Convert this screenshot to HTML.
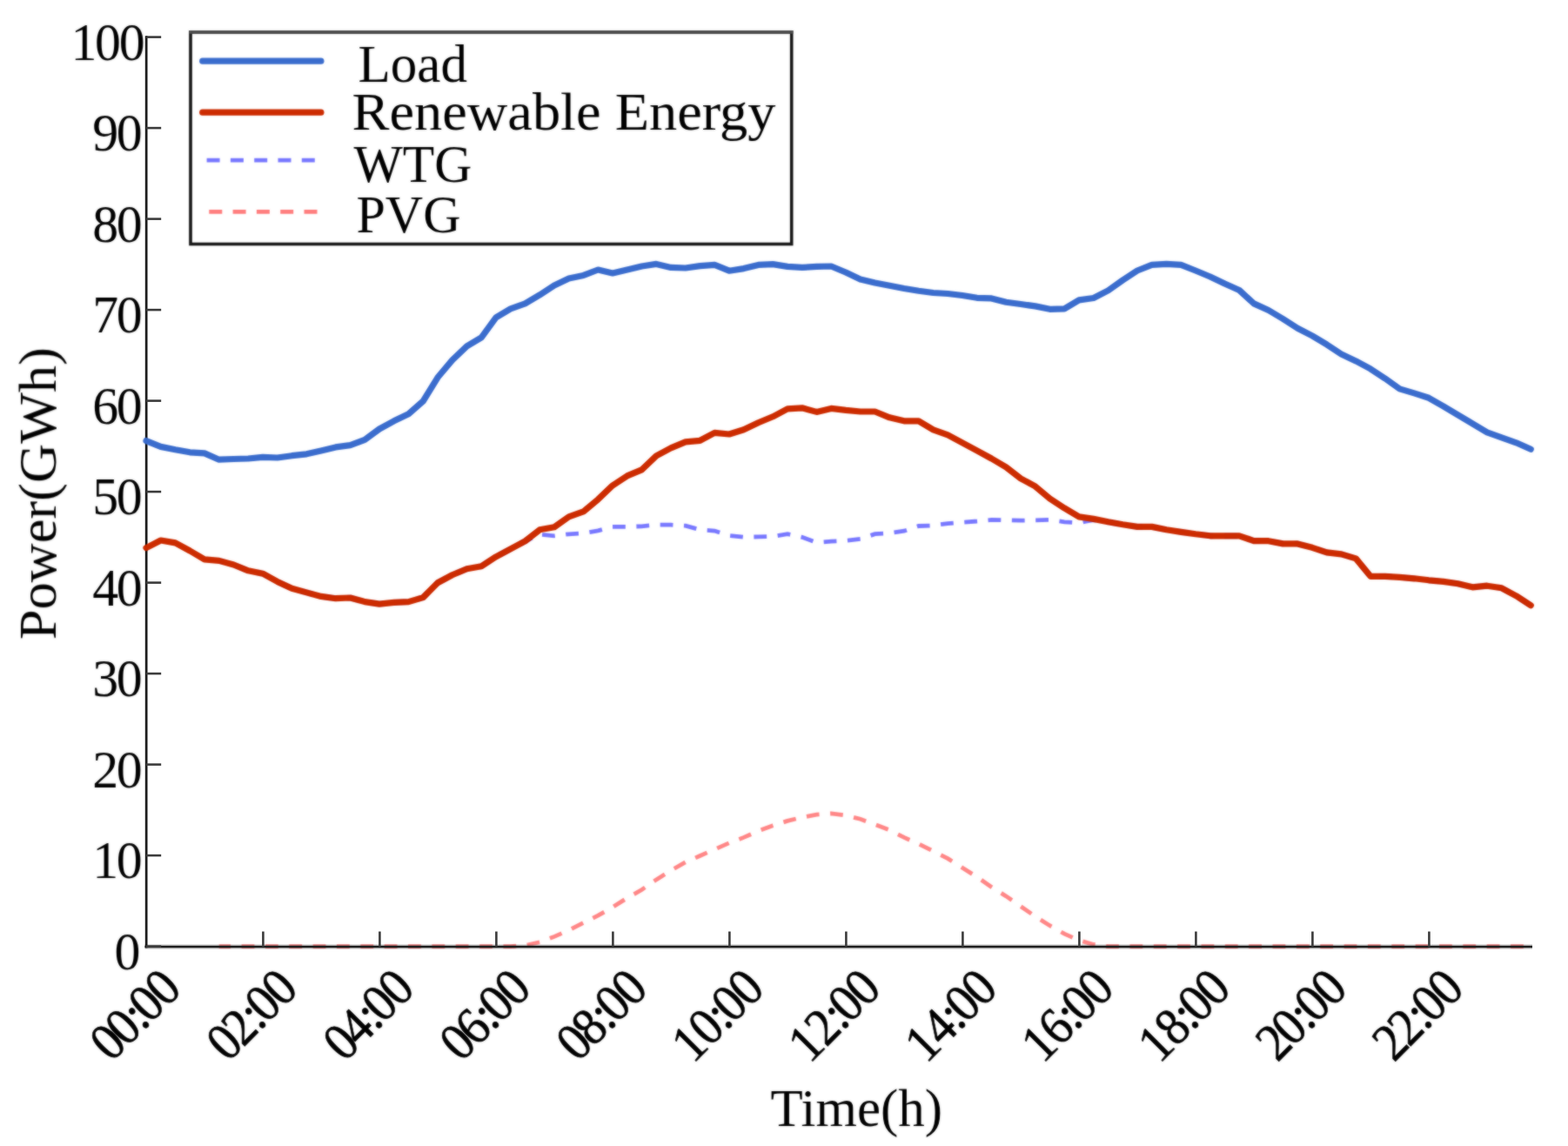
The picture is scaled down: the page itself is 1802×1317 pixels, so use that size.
<!DOCTYPE html>
<html lang="en"><head><meta charset="utf-8"><title>Power chart</title>
<style>html,body{margin:0;padding:0;background:#fff}svg{display:block}text{font-family:"Liberation Serif",serif;fill:#000}</style></head>
<body><svg width="1802" height="1317" viewBox="0 0 1802 1317">
<defs><filter id="soft" x="0" y="0" width="1802" height="1317" filterUnits="userSpaceOnUse" color-interpolation-filters="sRGB"><feGaussianBlur stdDeviation="0.8" result="b"/><feComposite in="SourceGraphic" in2="b" operator="arithmetic" k1="0" k2="0.45" k3="0.55" k4="0"/></filter></defs>
<rect width="1802" height="1317" fill="#fff"/>
<g filter="url(#soft)">
<polyline fill="none" stroke="#7878ff" stroke-width="4.8" stroke-dasharray="14.8 12.55" stroke-dashoffset="9" points="251.75,644.40 268.50,649.00 285.25,655.80 302.00,659.20 318.75,668.40 335.50,676.30 352.25,680.90 369.00,685.40 385.75,687.70 402.50,687.00 419.25,691.60 436.00,694.10 452.75,692.30 469.50,691.60 486.25,686.60 503.00,669.70 519.75,660.80 536.50,653.80 553.25,650.80 570.00,639.80 586.75,630.80 603.50,621.80 620.25,614.00 637.00,615.80 653.75,613.80 670.50,612.80 687.25,609.80 704.00,605.40 720.75,605.40 737.50,604.80 754.25,603.20 771.00,603.20 787.75,604.20 804.50,608.80 821.25,610.00 838.00,615.50 854.75,617.30 871.50,616.90 888.25,616.40 905.00,613.70 921.75,617.30 938.50,623.50 955.25,622.20 972.00,621.40 988.75,619.40 1005.50,613.70 1022.25,612.80 1039.00,610.20 1055.75,604.50 1072.50,603.90 1089.25,601.60 1106.00,600.20 1122.75,599.00 1139.50,597.40 1156.25,597.80 1173.00,598.20 1189.75,597.80 1206.50,597.40 1223.25,599.80 1240.00,600.80 1256.75,597.50 1273.50,599.80 1290.25,602.80 1307.00,605.40 1323.75,605.40 1340.50,608.80 1357.25,611.40 1374.00,613.80 1390.75,615.80 1407.50,615.80 1424.25,615.80 1441.00,621.60 1457.75,621.70 1474.50,624.90 1491.25,624.90 1508.00,629.30 1524.75,634.90 1541.50,636.90 1558.25,641.90 1575.00,662.30 1591.75,662.30 1608.50,663.40 1625.25,664.80 1642.00,666.80 1658.75,668.40 1675.50,670.80 1692.25,674.80 1709.00,673.20 1725.75,675.80 1742.50,684.80 1759.25,695.80"/>
<polyline fill="none" stroke="#ff8686" stroke-width="4.8" stroke-dasharray="14.8 12.55" stroke-dashoffset="1.5" points="251.75,1087.60 268.50,1087.60 285.25,1087.60 302.00,1087.60 318.75,1087.60 335.50,1087.60 352.25,1087.60 369.00,1087.60 385.75,1087.60 402.50,1087.60 419.25,1087.60 436.00,1087.60 452.75,1087.60 469.50,1087.60 486.25,1087.60 503.00,1087.60 519.75,1087.60 536.50,1087.60 553.25,1087.60 570.00,1087.60 586.75,1087.60 603.50,1086.50 620.25,1082.70 637.00,1076.40 653.75,1069.00 670.50,1060.50 687.25,1052.10 704.00,1042.60 720.75,1032.00 737.50,1022.50 754.25,1010.90 771.00,1000.40 787.75,990.90 804.50,983.50 821.25,976.10 838.00,968.70 854.75,962.40 871.50,955.00 888.25,948.70 905.00,943.40 921.75,939.20 938.50,936.20 955.25,934.90 972.00,937.00 988.75,941.30 1005.50,947.60 1022.25,953.90 1039.00,962.40 1055.75,969.80 1072.50,978.20 1089.25,986.70 1106.00,997.20 1122.75,1007.80 1139.50,1019.40 1156.25,1029.90 1173.00,1041.50 1189.75,1053.20 1206.50,1063.70 1223.25,1073.20 1240.00,1080.60 1256.75,1085.50 1273.50,1087.60 1290.25,1087.60 1307.00,1087.60 1323.75,1087.60 1340.50,1087.60 1357.25,1087.60 1374.00,1087.60 1390.75,1087.60 1407.50,1087.60 1424.25,1087.60 1441.00,1087.60 1457.75,1087.60 1474.50,1087.60 1491.25,1087.60 1508.00,1087.60 1524.75,1087.60 1541.50,1087.60 1558.25,1087.60 1575.00,1087.60 1591.75,1087.60 1608.50,1087.60 1625.25,1087.60 1642.00,1087.60 1658.75,1087.60 1675.50,1087.60 1692.25,1087.60 1709.00,1087.60 1725.75,1087.60 1742.50,1087.60 1759.25,1087.60"/>
</g>
<g stroke="#1e1e1e" fill="none">
<line x1="168.1" y1="41.2" x2="168.1" y2="1089.3" stroke="#000" stroke-opacity="0.15" stroke-width="4.2"/>
<line x1="168.2" y1="41.2" x2="168.2" y2="1089.3" stroke-width="2.5"/>
<line x1="166.5" y1="1088" x2="1761" y2="1088" stroke="#000" stroke-opacity="0.2" stroke-width="5.6"/>
<line x1="166.5" y1="1088" x2="1761" y2="1088" stroke-width="2.3"/>
<line x1="168" y1="1087.6" x2="185.2" y2="1087.6" stroke="#3c3c3c" stroke-width="2.6"/>
<line x1="168" y1="983.1" x2="185.2" y2="983.1" stroke="#3c3c3c" stroke-width="2.6"/>
<line x1="168" y1="878.6" x2="185.2" y2="878.6" stroke="#3c3c3c" stroke-width="2.6"/>
<line x1="168" y1="774.1" x2="185.2" y2="774.1" stroke="#3c3c3c" stroke-width="2.6"/>
<line x1="168" y1="669.6" x2="185.2" y2="669.6" stroke="#3c3c3c" stroke-width="2.6"/>
<line x1="168" y1="565.1" x2="185.2" y2="565.1" stroke="#3c3c3c" stroke-width="2.6"/>
<line x1="168" y1="460.6" x2="185.2" y2="460.6" stroke="#3c3c3c" stroke-width="2.6"/>
<line x1="168" y1="356.1" x2="185.2" y2="356.1" stroke="#3c3c3c" stroke-width="2.6"/>
<line x1="168" y1="251.6" x2="185.2" y2="251.6" stroke="#3c3c3c" stroke-width="2.6"/>
<line x1="168" y1="147.1" x2="185.2" y2="147.1" stroke="#3c3c3c" stroke-width="2.6"/>
<line x1="168" y1="42.6" x2="185.2" y2="42.6" stroke="#3c3c3c" stroke-width="2.6"/>
<line x1="302.4" y1="1088" x2="302.4" y2="1070.5" stroke="#3c3c3c" stroke-width="2.6"/>
<line x1="436.4" y1="1088" x2="436.4" y2="1070.5" stroke="#3c3c3c" stroke-width="2.6"/>
<line x1="570.4" y1="1088" x2="570.4" y2="1070.5" stroke="#3c3c3c" stroke-width="2.6"/>
<line x1="704.4" y1="1088" x2="704.4" y2="1070.5" stroke="#3c3c3c" stroke-width="2.6"/>
<line x1="838.4" y1="1088" x2="838.4" y2="1070.5" stroke="#3c3c3c" stroke-width="2.6"/>
<line x1="972.4" y1="1088" x2="972.4" y2="1070.5" stroke="#3c3c3c" stroke-width="2.6"/>
<line x1="1106.4" y1="1088" x2="1106.4" y2="1070.5" stroke="#3c3c3c" stroke-width="2.6"/>
<line x1="1240.4" y1="1088" x2="1240.4" y2="1070.5" stroke="#3c3c3c" stroke-width="2.6"/>
<line x1="1374.4" y1="1088" x2="1374.4" y2="1070.5" stroke="#3c3c3c" stroke-width="2.6"/>
<line x1="1508.4" y1="1088" x2="1508.4" y2="1070.5" stroke="#3c3c3c" stroke-width="2.6"/>
<line x1="1642.4" y1="1088" x2="1642.4" y2="1070.5" stroke="#3c3c3c" stroke-width="2.6"/>
</g>
<g filter="url(#soft)">
<polyline fill="none" stroke="#3a6ccd" stroke-width="7.2" stroke-linecap="round" stroke-linejoin="round" points="168.00,506.60 184.75,513.40 201.50,516.80 218.25,519.80 235.00,520.90 251.75,528.20 268.50,527.50 285.25,527.00 302.00,525.30 318.75,526.00 335.50,523.70 352.25,521.80 369.00,518.00 385.75,513.90 402.50,511.60 419.25,505.40 436.00,493.00 452.75,483.80 469.50,475.80 486.25,461.00 503.00,433.80 519.75,413.90 536.50,397.90 553.25,387.90 570.00,364.90 586.75,354.90 603.50,348.90 620.25,338.90 637.00,327.90 653.75,320.00 670.50,316.40 687.25,310.00 704.00,314.00 720.75,310.00 737.50,306.00 754.25,303.40 771.00,307.40 787.75,308.00 804.50,305.60 821.25,304.40 838.00,311.20 854.75,308.60 871.50,304.40 888.25,303.60 905.00,306.40 921.75,307.40 938.50,306.40 955.25,306.00 972.00,313.00 988.75,321.00 1005.50,325.00 1022.25,328.30 1039.00,331.50 1055.75,334.30 1072.50,336.50 1089.25,337.50 1106.00,339.50 1122.75,342.30 1139.50,342.90 1156.25,347.30 1173.00,349.50 1189.75,351.90 1206.50,355.30 1223.25,354.90 1240.00,344.90 1256.75,342.50 1273.50,333.90 1290.25,322.00 1307.00,311.00 1323.75,304.40 1340.50,303.40 1357.25,304.40 1374.00,311.00 1390.75,318.00 1407.50,326.00 1424.25,333.50 1441.00,348.90 1457.75,356.50 1474.50,366.50 1491.25,377.20 1508.00,385.90 1524.75,395.90 1541.50,406.90 1558.25,414.90 1575.00,423.90 1591.75,434.90 1608.50,446.90 1625.25,451.90 1642.00,457.30 1658.75,466.80 1675.50,476.80 1692.25,486.80 1709.00,496.80 1725.75,502.80 1742.50,508.80 1759.25,516.20"/>
<polyline fill="none" stroke="#cc2b00" stroke-width="7.2" stroke-linecap="round" stroke-linejoin="round" points="168.00,629.60 184.75,621.00 201.50,623.90 218.25,633.00 235.00,642.80 251.75,644.40 268.50,649.00 285.25,655.80 302.00,659.20 318.75,668.40 335.50,676.30 352.25,680.90 369.00,685.40 385.75,687.70 402.50,687.00 419.25,691.60 436.00,694.10 452.75,692.30 469.50,691.60 486.25,686.60 503.00,669.70 519.75,660.80 536.50,653.80 553.25,650.80 570.00,639.80 586.75,630.80 603.50,621.80 620.25,608.80 637.00,605.80 653.75,593.90 670.50,587.90 687.25,573.90 704.00,557.90 720.75,546.90 737.50,539.90 754.25,523.90 771.00,514.90 787.75,507.90 804.50,506.30 821.25,497.40 838.00,499.00 854.75,493.80 871.50,485.80 888.25,478.80 905.00,469.80 921.75,468.80 938.50,473.40 955.25,469.40 972.00,471.40 988.75,473.00 1005.50,473.00 1022.25,479.80 1039.00,483.80 1055.75,483.80 1072.50,493.80 1089.25,499.80 1106.00,508.80 1122.75,517.80 1139.50,527.00 1156.25,536.80 1173.00,549.90 1189.75,558.90 1206.50,572.90 1223.25,583.90 1240.00,593.90 1256.75,596.40 1273.50,599.80 1290.25,602.80 1307.00,605.40 1323.75,605.40 1340.50,608.80 1357.25,611.40 1374.00,613.80 1390.75,615.80 1407.50,615.80 1424.25,615.80 1441.00,621.60 1457.75,621.70 1474.50,624.90 1491.25,624.90 1508.00,629.30 1524.75,634.90 1541.50,636.90 1558.25,641.90 1575.00,662.30 1591.75,662.30 1608.50,663.40 1625.25,664.80 1642.00,666.80 1658.75,668.40 1675.50,670.80 1692.25,674.80 1709.00,673.20 1725.75,675.80 1742.50,684.80 1759.25,695.80"/>
<text transform="translate(131.50,1113.80) scale(0.966,1)" x="0" y="0" font-size="62" letter-spacing="-2.5">0</text>
<text transform="translate(106.20,1009.30) scale(0.966,1)" x="0" y="0" font-size="62" letter-spacing="-2.5">10</text>
<text transform="translate(106.20,904.80) scale(0.966,1)" x="0" y="0" font-size="62" letter-spacing="-2.5">20</text>
<text transform="translate(106.20,800.30) scale(0.966,1)" x="0" y="0" font-size="62" letter-spacing="-2.5">30</text>
<text transform="translate(106.20,695.80) scale(0.966,1)" x="0" y="0" font-size="62" letter-spacing="-2.5">40</text>
<text transform="translate(106.20,591.30) scale(0.966,1)" x="0" y="0" font-size="62" letter-spacing="-2.5">50</text>
<text transform="translate(106.20,486.80) scale(0.966,1)" x="0" y="0" font-size="62" letter-spacing="-2.5">60</text>
<text transform="translate(106.20,382.30) scale(0.966,1)" x="0" y="0" font-size="62" letter-spacing="-2.5">70</text>
<text transform="translate(106.20,277.80) scale(0.966,1)" x="0" y="0" font-size="62" letter-spacing="-2.5">80</text>
<text transform="translate(106.20,173.30) scale(0.966,1)" x="0" y="0" font-size="62" letter-spacing="-2.5">90</text>
<text transform="translate(81.60,68.80) scale(0.966,1)" x="0" y="0" font-size="62" letter-spacing="-2.5">100</text>
<text transform="translate(168.0,1166.0) rotate(-45) scale(0.92,1.0)" x="-73.40 -46.50 -17.83 -5.20 23.34" y="10.9" font-size="61" stroke="#000" stroke-width="0.7">00:00</text>
<text transform="translate(302.0,1166.0) rotate(-45) scale(0.92,1.0)" x="-73.40 -46.50 -17.83 -5.20 23.34" y="10.9" font-size="61" stroke="#000" stroke-width="0.7">02:00</text>
<text transform="translate(436.0,1166.0) rotate(-45) scale(0.92,1.0)" x="-73.40 -46.50 -17.83 -5.20 23.34" y="10.9" font-size="61" stroke="#000" stroke-width="0.7">04:00</text>
<text transform="translate(570.0,1166.0) rotate(-45) scale(0.92,1.0)" x="-73.40 -46.50 -17.83 -5.20 23.34" y="10.9" font-size="61" stroke="#000" stroke-width="0.7">06:00</text>
<text transform="translate(704.0,1166.0) rotate(-45) scale(0.92,1.0)" x="-73.40 -46.50 -17.83 -5.20 23.34" y="10.9" font-size="61" stroke="#000" stroke-width="0.7">08:00</text>
<text transform="translate(838.0,1166.0) rotate(-45) scale(0.92,1.0)" x="-75.58 -46.50 -17.83 -5.20 23.34" y="10.9" font-size="61" stroke="#000" stroke-width="0.7">10:00</text>
<text transform="translate(972.0,1166.0) rotate(-45) scale(0.92,1.0)" x="-75.58 -46.50 -17.83 -5.20 23.34" y="10.9" font-size="61" stroke="#000" stroke-width="0.7">12:00</text>
<text transform="translate(1106.0,1166.0) rotate(-45) scale(0.92,1.0)" x="-75.58 -46.50 -17.83 -5.20 23.34" y="10.9" font-size="61" stroke="#000" stroke-width="0.7">14:00</text>
<text transform="translate(1240.0,1166.0) rotate(-45) scale(0.92,1.0)" x="-75.58 -46.50 -17.83 -5.20 23.34" y="10.9" font-size="61" stroke="#000" stroke-width="0.7">16:00</text>
<text transform="translate(1374.0,1166.0) rotate(-45) scale(0.92,1.0)" x="-75.58 -46.50 -17.83 -5.20 23.34" y="10.9" font-size="61" stroke="#000" stroke-width="0.7">18:00</text>
<text transform="translate(1508.0,1166.0) rotate(-45) scale(0.92,1.0)" x="-73.40 -46.50 -17.83 -5.20 23.34" y="10.9" font-size="61" stroke="#000" stroke-width="0.7">20:00</text>
<text transform="translate(1642.0,1166.0) rotate(-45) scale(0.92,1.0)" x="-73.40 -46.50 -17.83 -5.20 23.34" y="10.9" font-size="61" stroke="#000" stroke-width="0.7">22:00</text>
<text x="885.5" y="1294" font-size="62" textLength="197.5" lengthAdjust="spacingAndGlyphs">Time(h)</text>
<text transform="translate(64,735.2) rotate(-90)" x="0" y="0" font-size="62" textLength="336" lengthAdjust="spacingAndGlyphs">Power(GWh)</text>
<rect x="219" y="37" width="690.7" height="243.5" fill="#fff" stroke="#161616" stroke-width="3.6"/>
<line x1="217" y1="36.9" x2="911.6" y2="36.9" stroke="#4a4a4a" stroke-width="3.6"/>
<line x1="232.7" y1="70.2" x2="368.9" y2="70.2" stroke="#3a6ccd" stroke-width="7.2" stroke-linecap="round"/>
<line x1="232.7" y1="129.2" x2="368.9" y2="129.2" stroke="#cc2b00" stroke-width="7.2" stroke-linecap="round"/>
<line x1="237.6" y1="184.2" x2="362.5" y2="184.2" stroke="#7878ff" stroke-width="4.8" stroke-dasharray="15 12.3"/>
<line x1="240.3" y1="243.4" x2="365.5" y2="243.4" stroke="#ff7c7c" stroke-width="4.8" stroke-dasharray="15 12.3"/>
<text x="411.5" y="94.3" font-size="62" textLength="125.5" lengthAdjust="spacingAndGlyphs">Load</text>
<text x="404.5" y="148.8" font-size="62" textLength="487" lengthAdjust="spacingAndGlyphs">Renewable Energy</text>
<text x="406.5" y="209" font-size="62" textLength="136" lengthAdjust="spacingAndGlyphs">WTG</text>
<text x="409.5" y="267" font-size="62" textLength="120" lengthAdjust="spacingAndGlyphs">PVG</text>
</g>
</svg></body></html>
